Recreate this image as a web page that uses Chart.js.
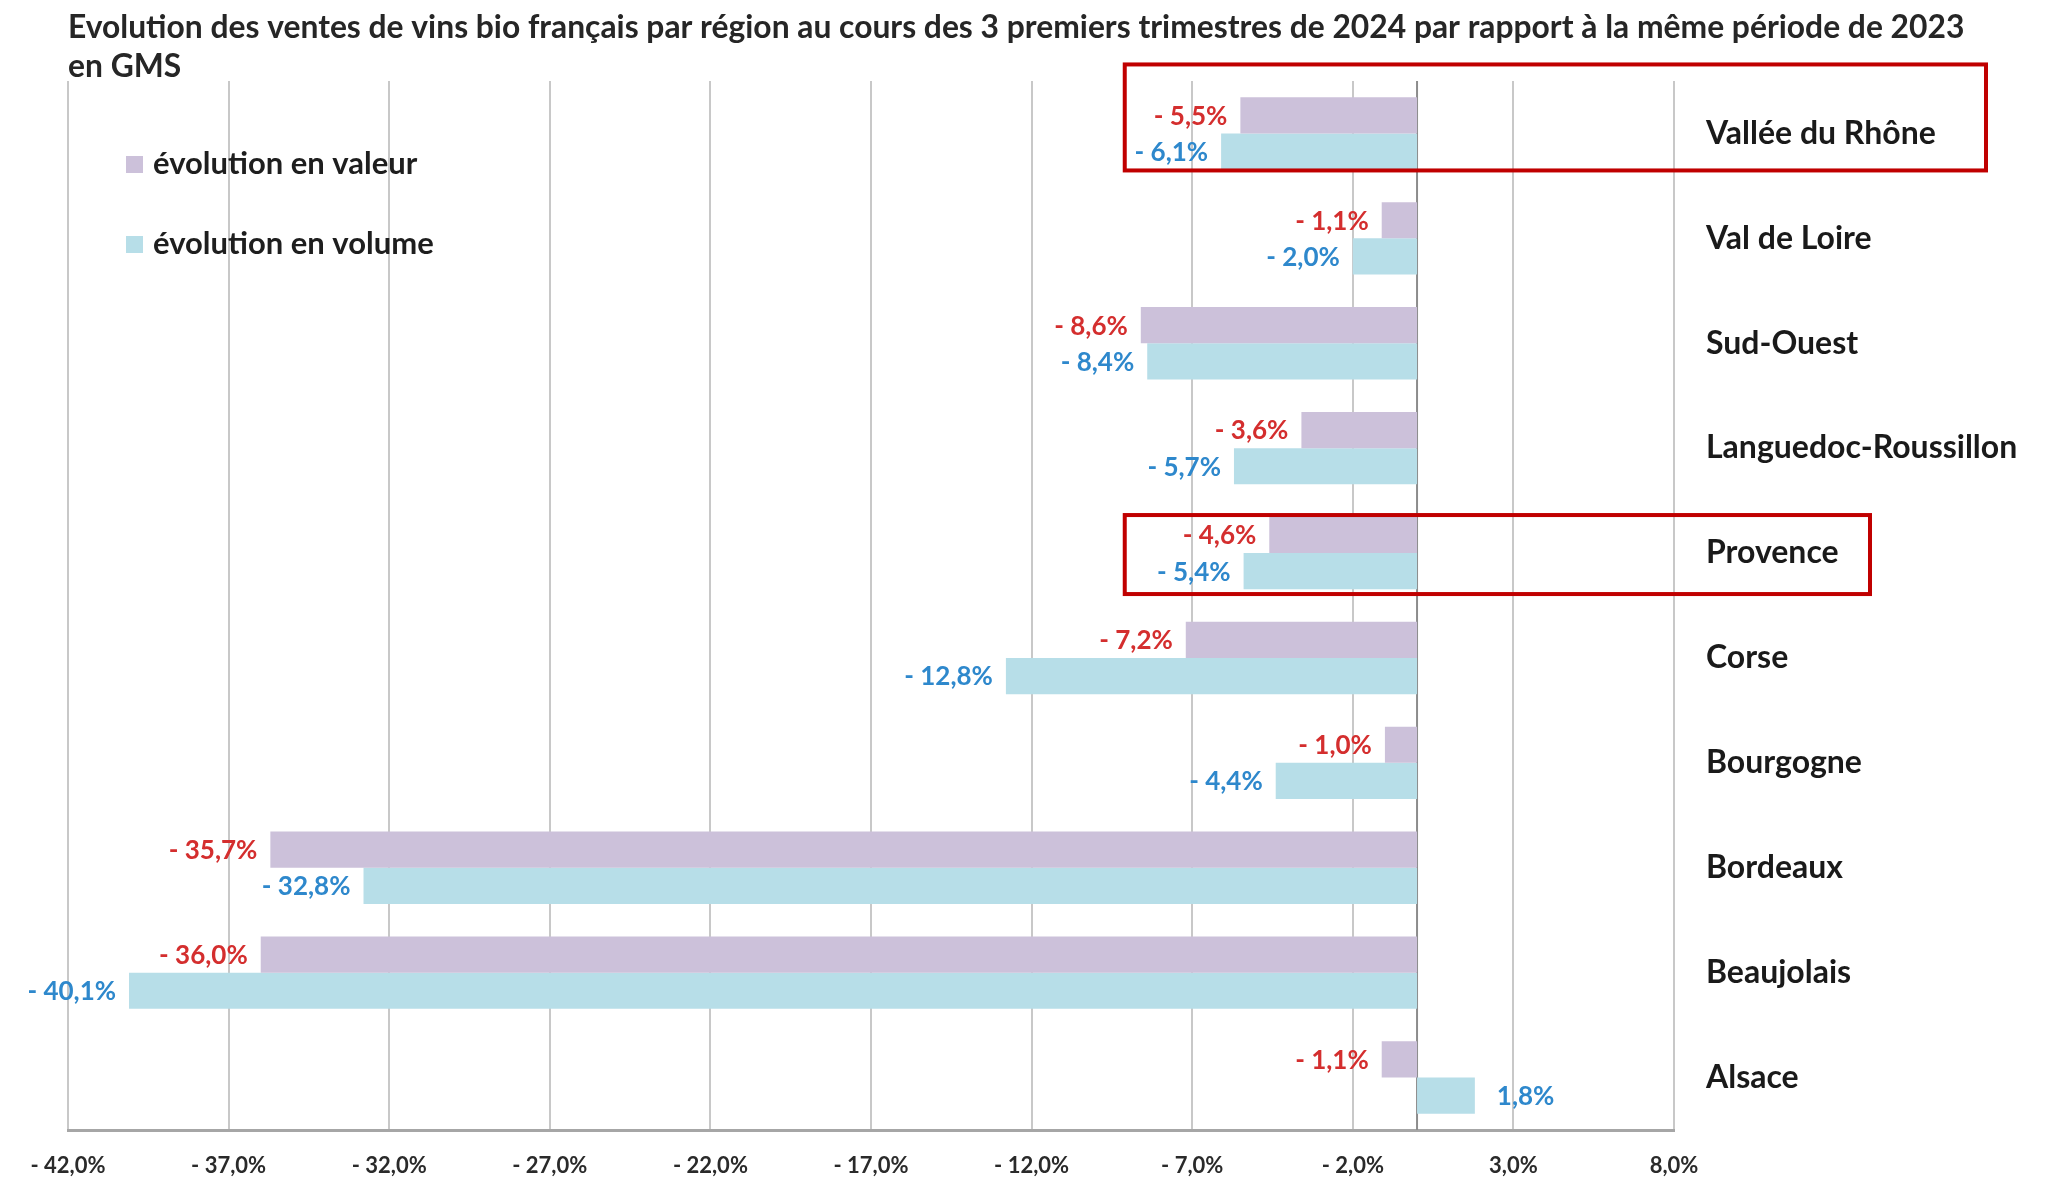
<!DOCTYPE html>
<html>
<head>
<meta charset="utf-8">
<script src="https://cdn.jsdelivr.net/npm/chart.js@4.4.1/dist/chart.umd.min.js"></script>
<style>
  body { margin: 0; background: #fff; }
  #wrap { width: 2055px; height: 1177px; }
</style>
</head>
<body>
<div id="wrap"><canvas id="myChart" width="2055" height="1177"></canvas></div>
<script>
const titleLines = [
  "Evolution des ventes de vins bio français par région au cours des 3 premiers trimestres de 2024 par rapport à la même période de 2023",
  "en GMS"
];
const regions = ["Vallée du Rhône", "Val de Loire", "Sud-Ouest", "Languedoc-Roussillon", "Provence",
                 "Corse", "Bourgogne", "Bordeaux", "Beaujolais", "Alsace"];
const valeur = [-5.5, -1.1, -8.6, -3.6, -4.6, -7.2, -1.0, -35.7, -36.0, -1.1];
const volume = [-6.1, -2.0, -8.4, -5.7, -5.4, -12.8, -4.4, -32.8, -40.1, 1.8];
const seriesNames = ["évolution en valeur", "évolution en volume"];
const xMin = -42, xMax = 8, xStep = 5;
const highlighted = ["Vallée du Rhône", "Provence"];

const FONT = "Lato, 'Open Sans', sans-serif";

function fmtPct(v) {
  const s = Math.abs(v).toFixed(1).replace(".", ",") + "%";
  return v < 0 ? "- " + s : s;
}

// labels next to the end of each bar
const barLabels = {
  id: "barLabels",
  afterDatasetsDraw(chart) {
    const ctx = chart.ctx;
    const colors = ["#d42e2e", "#2e88cc"];
    ctx.save();
    ctx.font = "bold 26px " + FONT;
    ctx.textBaseline = "middle";
    chart.data.datasets.forEach((ds, i) => {
      const meta = chart.getDatasetMeta(i);
      ctx.fillStyle = colors[i];
      meta.data.forEach((bar, j) => {
        const v = ds.data[j];
        if (v < 0) {
          ctx.textAlign = "right";
          ctx.fillText(fmtPct(v), bar.x - 13, bar.y + 1);
        } else {
          ctx.textAlign = "left";
          ctx.fillText(fmtPct(v), bar.x + 22, bar.y + 1);
        }
      });
    });
    ctx.restore();
  }
};

// zero line, legend inside the plot, red highlight frames
const extras = {
  id: "extras",
  beforeDatasetsDraw(chart) {
    const { ctx, chartArea, scales } = chart;
    const x0 = scales.x.getPixelForValue(0);
    ctx.save();
    ctx.strokeStyle = "#8c8c8c";
    ctx.lineWidth = 2;
    ctx.beginPath();
    ctx.moveTo(x0, chartArea.top);
    ctx.lineTo(x0, chartArea.bottom);
    ctx.stroke();
    ctx.restore();
  },
  afterDraw(chart) {
    const { ctx, chartArea, scales } = chart;
    ctx.save();
    // legend
    ctx.font = "bold 31px " + FONT;
    ctx.textBaseline = "middle";
    ctx.textAlign = "left";
    chart.data.datasets.forEach((ds, i) => {
      const y = chartArea.top + 83 + i * 80;
      ctx.fillStyle = ds.backgroundColor;
      ctx.fillRect(chartArea.left + 58, y - 8, 17, 17);
      ctx.fillStyle = "#1e1e1e";
      ctx.fillText(ds.label, chartArea.left + 85, y);
    });
    // highlight frames
    ctx.strokeStyle = "#c00000";
    ctx.lineWidth = 4;
    const left = scales.x.getPixelForValue(-9.1);
    const frames = [
      { up: 69, down: 37, right: 312 },
      { up: 38, down: 41, right: 196 }
    ];
    highlighted.forEach((name, k) => {
      const yc = scales.y.getPixelForValue(regions.indexOf(name));
      const f = frames[k];
      ctx.strokeRect(left, yc - f.up, chartArea.right + f.right - left, f.up + f.down);
    });
    ctx.restore();
  }
};

const data = {
  labels: regions,
  datasets: [
    { label: seriesNames[0], data: valeur, backgroundColor: "#ccc1da" },
    { label: seriesNames[1], data: volume, backgroundColor: "#b7dee8" }
  ]
};

const config = {
  type: "bar",
  data: data,
  options: {
    indexAxis: "y",
    responsive: false,
    animation: false,
    layout: { padding: { left: 68, right: 0, top: 0, bottom: 0 } },
    datasets: { bar: { barPercentage: 1, categoryPercentage: 0.69 } },
    plugins: {
      legend: { display: false },
      tooltip: { enabled: false },
      title: {
        display: true,
        text: titleLines,
        align: "start",
        color: "#262626",
        font: { family: FONT, size: 31.8, weight: "bold", lineHeight: "39px" },
        padding: { top: 8, bottom: -5 }
      }
    },
    scales: {
      x: {
        type: "linear",
        min: xMin,
        max: xMax,
        ticks: {
          stepSize: xStep,
          callback: v => fmtPct(v),
          color: "#2a2a2a",
          font: { family: FONT, size: 22, weight: "bold" },
          padding: 23,
          maxRotation: 0
        },
        grid: { color: "#c8c8c8", lineWidth: 2, drawTicks: false },
        border: { display: true, color: "#a6a6a6", width: 3 },
        afterFit: axis => { axis.height = 47; }
      },
      y: {
        position: "right",
        ticks: {
          color: "#1a1a1a",
          font: { family: FONT, size: 32, weight: "bold" },
          padding: 24
        },
        grid: { display: false },
        border: { display: false },
        afterFit: axis => { axis.width = 381; }
      }
    }
  },
  plugins: [barLabels, extras]
};

const myChart = new Chart(document.getElementById("myChart"), config);
</script>
</body>
</html>
